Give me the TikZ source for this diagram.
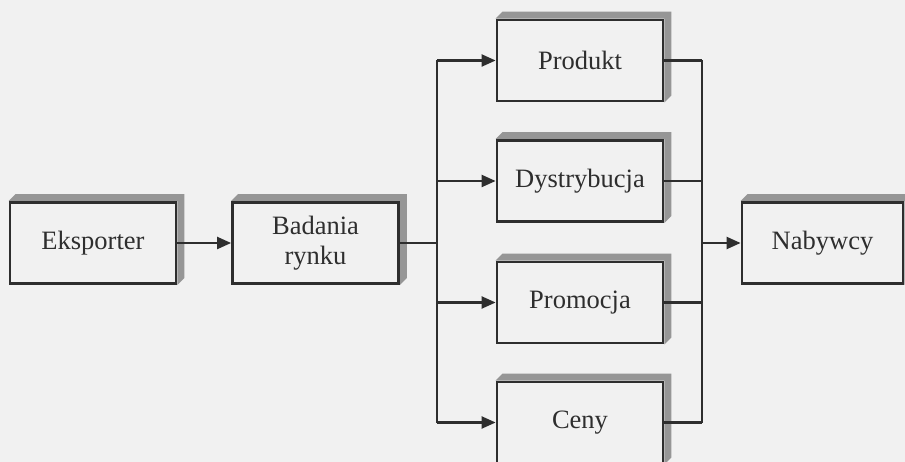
\documentclass[tikz,border=0pt]{standalone}
\usepackage{fontspec}
\setmainfont{Liberation Serif}
\usetikzlibrary{arrows.meta,backgrounds}
\definecolor{paper}{RGB}{241,241,241}
\definecolor{ink}{RGB}{46,46,46}
\definecolor{shade}{RGB}{150,150,150}
\tikzset{
  stagebox/.style={draw=ink, line width=2.8pt, fill=paper, text=ink,
    minimum width=166pt, minimum height=81pt, inner sep=0pt,
    align=center, font=\fontsize{26.5}{29.5}\selectfont},
  link/.style={draw=ink, line width=2.2pt},
  arr/.style={link, -{Triangle[length=14pt,width=12pt]}},
  extrude/.style={fill=shade}
}
\begin{document}
\begin{tikzpicture}[x=1pt,y=-1pt]
  \useasboundingbox (0,0) rectangle (905,462);
  \begin{scope}[on background layer]
    \fill[paper] (0,0) rectangle (905,462);
  \end{scope}

  % stages
  \node[stagebox] (eks)  at (93,243)    {Eksporter};
  \node[stagebox] (bad)  at (315.5,243) {Badania\\rynku};
  \node[stagebox] (prod) at (580,60.5)  {Produkt};
  \node[stagebox] (dys)  at (580,181)   {Dystrybucja};
  \node[stagebox] (pro)  at (580,302.5) {Promocja};
  \node[stagebox] (cen)  at (580,422.5) {Ceny};
  \node[stagebox, minimum width=161pt] (nab) at (822.5,243) {Nabywcy};

  % raised top and right faces of each box
  \begin{scope}[on background layer]
    \foreach \n in {eks,bad,prod,dys,pro,cen,nab}{
      \fill[extrude] (\n.north west) -- ++(7pt,7pt)
        -- ([shift={(7pt,7pt)}]\n.north east)
        -- ([shift={(7pt,7pt)}]\n.south east)
        -- (\n.south east) -- (\n.north east) -- cycle;
    }
  \end{scope}

  % branching trunks
  \coordinate (tl) at (437,243);
  \coordinate (tr) at (702,243);

  \draw[arr] (eks.east) -- (bad.west);
  \draw[link] (bad.east) -- (tl);
  \draw[link] (tl |- prod) -- (tl |- cen);
  \foreach \n in {prod,dys,pro,cen}{
    \draw[arr] (tl |- \n) -- (\n.west);
    \draw[link] (\n.east) -- (tr |- \n);
  }
  \draw[link] (tr |- prod) -- (tr |- cen);
  \draw[arr] (tr) -- (nab.west);
\end{tikzpicture}
\end{document}
